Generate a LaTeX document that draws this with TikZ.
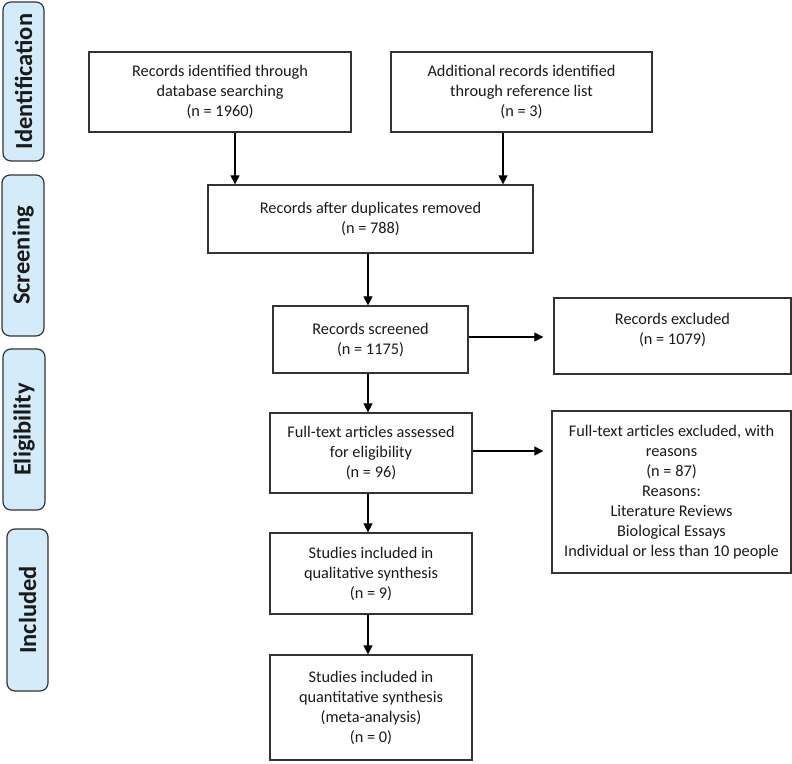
\documentclass[tikz,border=0pt]{standalone}
\usepackage{fontspec}
\setmainfont{Carlito}
\usetikzlibrary{arrows.meta}
\definecolor{tabblue}{HTML}{D4EBFA}
\definecolor{linegray}{HTML}{333333}
\definecolor{textgray}{HTML}{1A1A1A}
\begin{document}
\begin{tikzpicture}[x=1pt,y=-1pt,
  box/.style={draw=linegray,line width=1.3pt,fill=white,align=center,inner sep=0pt,
    font=\fontsize{16.3}{20}\selectfont,text=textgray},
  tab/.style={draw=linegray,line width=1.2pt,fill=tabblue,rounded corners=8pt,rotate=90,
    inner sep=0pt,font=\fontsize{24.5}{26}\selectfont\bfseries,text=textgray},
  arr/.style={draw=black,line width=1.2pt,-{Triangle[length=9pt,width=9pt]}}]
\useasboundingbox (0,0) rectangle (792,763);
% phase tabs
\node[tab,minimum width=159pt,minimum height=41pt] (t1) at (23.5,81.5) {Identification};
\node[tab,minimum width=161pt,minimum height=42pt] (t2) at (23,255.5) {Screening};
\node[tab,minimum width=161pt,minimum height=42pt] (t3) at (24,429.5) {Eligibility};
\node[tab,minimum width=162pt,minimum height=41pt] (t4) at (27.5,610) {Included};
% boxes
\node[box,minimum width=262pt,minimum height=80pt] (b1) at (220,92)
  {Records identified through\\database searching\\(n = 1960)};
\node[box,minimum width=261pt,minimum height=80pt] (b2) at (521.5,92)
  {Additional records identified\\through reference list\\(n = 3)};
\node[box,minimum width=325pt,minimum height=68pt] (b3) at (370.5,219)
  {Records after duplicates removed\\(n = 788)};
\node[box,minimum width=195pt,minimum height=67pt] (b4) at (370.5,339.5)
  {Records screened\\(n = 1175)};
\node[box,minimum width=237pt,minimum height=76pt] (b5) at (672.5,336)
  {Records excluded\\(n = 1079)\\[-6pt]};
\node[box,minimum width=202pt,minimum height=80pt] (b6) at (371,453)
  {Full-text articles assessed\\for eligibility\\(n = 96)};
\node[box,minimum width=239pt,minimum height=162pt] (b7) at (671.5,492)
  {Full-text articles excluded, with\\reasons\\(n = 87)\\Reasons:\\Literature Reviews\\Biological Essays\\Individual or less than 10 people};
\node[box,minimum width=202pt,minimum height=81pt] (b8) at (371,573.5)
  {Studies included in\\qualitative synthesis\\(n = 9)};
\node[box,minimum width=202pt,minimum height=105pt] (b9) at (371,707.5)
  {Studies included in\\quantitative synthesis\\(meta-analysis)\\(n = 0)};
% connector anchor points
\path ([xshift=15pt]b1.south) coordinate (a1);
\path ([xshift=-18.5pt]b2.south) coordinate (a2);
\path ([xshift=-2.5pt]b3.south) coordinate (a3);
\path ([yshift=2.5pt]b4.east) coordinate (a4);
\path ([xshift=-10pt]b5.west) coordinate (e4);
\path ([yshift=2pt]b6.east) coordinate (a6);
% connectors
\draw[arr] (a1) -- (a1 |- b3.north);
\draw[arr] (a2) -- (a2 |- b3.north);
\draw[arr] (a3) -- (a3 |- b4.north);
\draw[arr] (a4) -- (e4 |- a4);
\draw[arr] (a3 |- b4.south) -- (a3 |- b6.north);
\draw[arr] (a6) -- (e4 |- a6);
\draw[arr] (a3 |- b6.south) -- (a3 |- b8.north);
\draw[arr] (a3 |- b8.south) -- (a3 |- b9.north);
\end{tikzpicture}
\end{document}
